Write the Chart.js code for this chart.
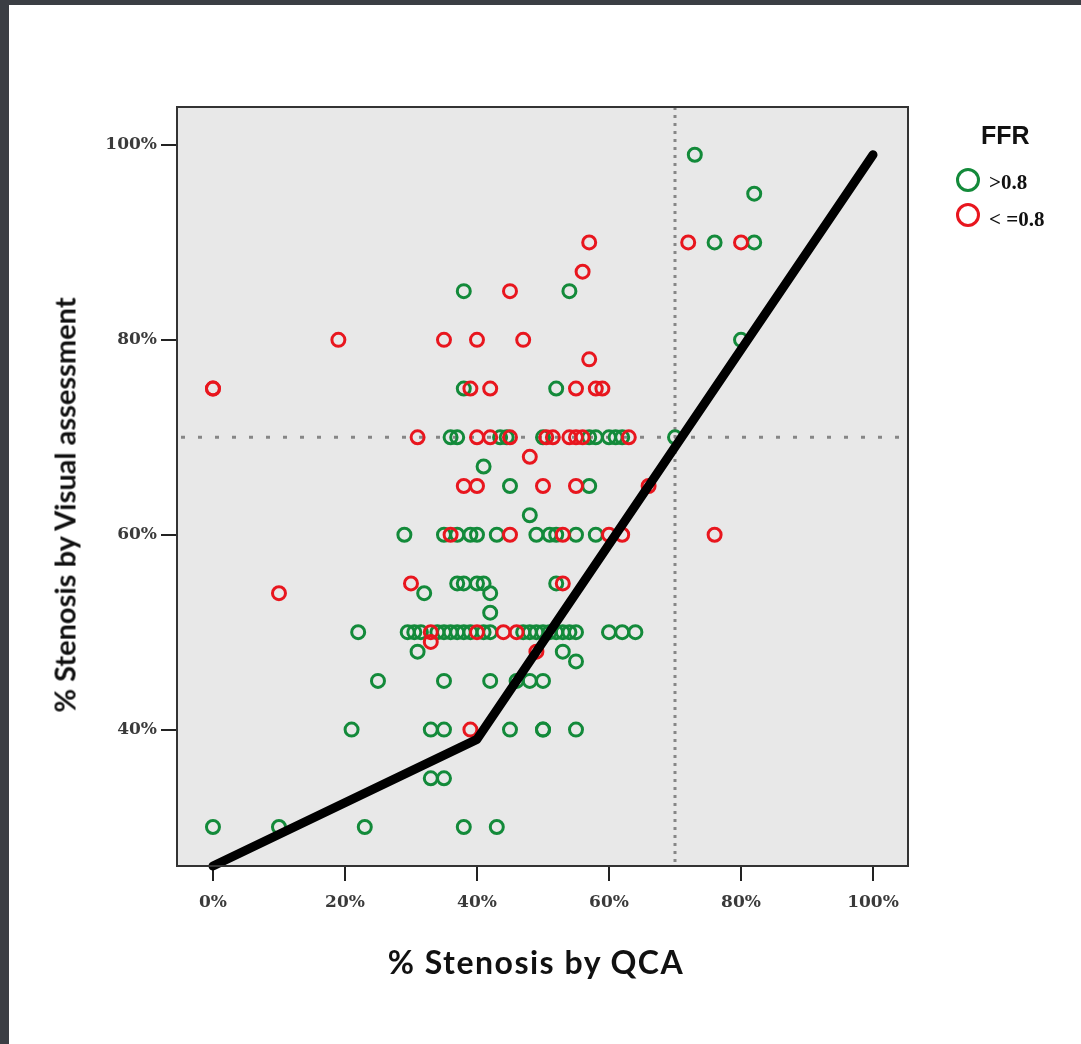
<!DOCTYPE html>
<html>
<head>
<meta charset="utf-8">
<script src="https://cdn.jsdelivr.net/npm/chart.js@4.4.0/dist/chart.umd.min.js"></script>
<style>
body { margin:0; background:#3b3e44; width:1081px; height:1044px; overflow:hidden; position:relative; }
#paper { position:absolute; left:9px; top:5px; right:0; bottom:0; background:#fff; }
#c { position:absolute; left:0; top:0; }
.ttl { position:absolute; font-family:Lato, 'Open Sans', sans-serif; font-weight:bold; color:#111; white-space:nowrap; }
#ytitle { left:64px; top:505px; font-size:29px; transform:translate(-50%,-50%) rotate(-90deg); }
#xtitle { left:536px; top:961px; font-size:32px; letter-spacing:1.5px; transform:translate(-50%,-50%); }
.leg { position:absolute; font-family:'Liberation Serif', serif; font-weight:bold; font-size:21px; color:#111; white-space:nowrap; }
.ring { position:absolute; width:18px; height:18px; border-radius:50%; border:3px solid; }
</style>
</head>
<body>
<div id="paper"></div>
<canvas id="c" width="1081" height="1044"></canvas>
<div class="ttl" id="ytitle">% Stenosis by Visual assessment</div>
<div class="ttl" id="xtitle">% Stenosis by QCA</div>
<div class="leg" style="left:981px; top:121px; font-family:'Liberation Sans', Arial, sans-serif; font-size:25px;">FFR</div>
<div class="ring" style="left:956px; top:168px; border-color:#138a3a;"></div>
<div class="leg" style="left:989px; top:170px;">&gt;0.8</div>
<div class="ring" style="left:956px; top:203px; border-color:#e8161e;"></div>
<div class="leg" style="left:989px; top:207px;">&lt; =0.8</div>
<script>
// axis ticks and reference line
const xTickValues = [0, 20, 40, 60, 80, 100];
const yTickValues = [40, 60, 80, 100];
const cutoff = 70;

// FFR > 0.8 (green)
const greenX = [73, 82, 76, 82, 38, 54, 80, 38, 52,
    36, 37, 43.5, 44.5, 50, 57, 58, 60, 61, 62, 70,
    41, 45, 57, 48,
    29, 35, 37, 39, 40, 43, 49, 51, 52, 55, 58,
    37, 38, 40, 41, 52, 32, 42, 42,
    22, 29.5, 30.5, 31.5, 34, 35, 36, 37, 38, 39, 41, 42, 47, 48, 49, 50, 51, 52, 53, 54, 55, 60, 62, 64,
    31, 53, 55,
    25, 35, 42, 46, 48, 50,
    21, 33, 35, 45, 50, 50, 55,
    33, 35,
    0, 10, 23, 38, 43];
const greenY = [99, 95, 90, 90, 85, 85, 80, 75, 75,
    70, 70, 70, 70, 70, 70, 70, 70, 70, 70, 70,
    67, 65, 65, 62,
    60, 60, 60, 60, 60, 60, 60, 60, 60, 60, 60,
    55, 55, 55, 55, 55, 54, 54, 52,
    50, 50, 50, 50, 50, 50, 50, 50, 50, 50, 50, 50, 50, 50, 50, 50, 50, 50, 50, 50, 50, 50, 50, 50,
    48, 48, 47,
    45, 45, 45, 45, 45, 45,
    40, 40, 40, 40, 40, 40, 40,
    35, 35,
    30, 30, 30, 30, 30];

// FFR <= 0.8 (red)
const redX = [57, 72, 80, 56, 45, 19, 35, 40, 47, 57,
    0, 0, 39, 42, 55, 58, 59,
    31, 40, 42, 45, 50.5, 51.5, 54, 55, 56, 63,
    48,
    38, 40, 50, 55, 66,
    36, 45, 53, 60, 62, 76,
    30, 53, 10,
    33, 40, 44, 46,
    33, 49, 39];
const redY = [90, 90, 90, 87, 85, 80, 80, 80, 80, 78,
    75, 75, 75, 75, 75, 75, 75,
    70, 70, 70, 70, 70, 70, 70, 70, 70, 70,
    68,
    65, 65, 65, 65, 65,
    60, 60, 60, 60, 60, 60,
    55, 55, 54,
    50, 50, 50, 50,
    49, 48, 40];

// fit line
const fitX = [0, 40, 100];
const fitY = [26, 39, 99];

const green = '#138a3a';
const red = '#e8161e';

function pts(xs, ys) {
    return xs.map((v, i) => ({x: v, y: ys[i]}));
}

const plotDecor = {
    id: 'plotDecor',
    beforeDraw(chart) {
        const {ctx, chartArea: a} = chart;
        ctx.save();
        ctx.fillStyle = '#e8e8e8';
        ctx.fillRect(a.left, a.top, a.right - a.left, a.bottom - a.top);
        ctx.restore();
    },
    beforeDatasetsDraw(chart) {
        const {ctx, chartArea: a, scales} = chart;
        ctx.save();
        ctx.strokeStyle = '#868686';
        ctx.lineWidth = 3;
        let yp = scales.y.getPixelForValue(cutoff);
        ctx.setLineDash([4, 13]);
        ctx.beginPath();
        ctx.moveTo(a.left + 4, yp);
        ctx.lineTo(a.right, yp);
        ctx.stroke();
        let xp = scales.x.getPixelForValue(cutoff);
        ctx.setLineDash([3, 5]);
        ctx.beginPath();
        ctx.moveTo(xp, a.top);
        ctx.lineTo(xp, a.bottom);
        ctx.stroke();
        ctx.restore();
    },
    afterDraw(chart) {
        const {ctx, chartArea: a} = chart;
        ctx.save();
        ctx.strokeStyle = '#333';
        ctx.lineWidth = 2;
        ctx.strokeRect(a.left, a.top, a.right - a.left, a.bottom - a.top);
        ctx.restore();
    }
};

const tickFont = {family: "'DejaVu Serif', serif", size: 17, weight: 'bold'};

new Chart(document.getElementById('c'), {
    type: 'scatter',
    data: {
        datasets: [
            {
                type: 'line',
                data: pts(fitX, fitY),
                borderColor: '#000',
                borderWidth: 9,
                pointRadius: 0,
                borderCapStyle: 'round',
                borderJoinStyle: 'round',
                tension: 0,
                clip: false,
                order: 0
            },
            {
                label: '< =0.8',
                data: pts(redX, redY),
                borderColor: red,
                backgroundColor: 'rgba(0,0,0,0)',
                pointRadius: 6.5,
                pointBorderWidth: 3,
                order: 1
            },
            {
                label: '>0.8',
                data: pts(greenX, greenY),
                borderColor: green,
                backgroundColor: 'rgba(0,0,0,0)',
                pointRadius: 6.5,
                pointBorderWidth: 3,
                order: 2
            }
        ]
    },
    options: {
        responsive: false,
        animation: false,
        layout: {padding: {top: 107, right: 173, left: 0, bottom: 0}},
        plugins: {legend: {display: false}, tooltip: {enabled: false}},
        scales: {
            x: {
                type: 'linear',
                min: -5.45,
                max: 105.3,
                afterBuildTicks: s => { s.ticks = xTickValues.map(v => ({value: v})); },
                afterFit: s => { s.height = 178; },
                ticks: {callback: v => v + '%', font: tickFont, color: '#3a3a3a', padding: 11, maxRotation: 0},
                grid: {drawOnChartArea: false, tickLength: 15, color: '#222', lineWidth: 2},
                border: {color: '#222', width: 2}
            },
            y: {
                type: 'linear',
                min: 26,
                max: 103.9,
                afterBuildTicks: s => { s.ticks = yTickValues.map(v => ({value: v})); },
                afterFit: s => { s.width = 177; },
                ticks: {callback: v => v + '%', font: tickFont, color: '#3a3a3a', padding: 4},
                grid: {drawOnChartArea: false, tickLength: 16, color: '#222', lineWidth: 2},
                border: {color: '#222', width: 2}
            }
        }
    },
    plugins: [plotDecor]
});
</script>
</body>
</html>
